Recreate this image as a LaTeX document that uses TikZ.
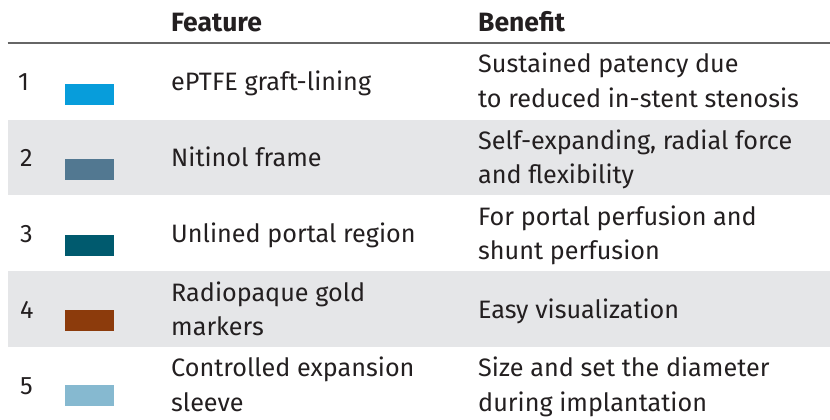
\documentclass[tikz,border=0pt]{standalone}
\usepackage{fontspec}
\setmainfont{Fira Sans}
\definecolor{inkc}{HTML}{231F20}
\definecolor{bandc}{HTML}{E5E6E8}
\definecolor{rulec}{HTML}{666666}
\definecolor{swa}{HTML}{079DDB}
\definecolor{swb}{HTML}{527891}
\definecolor{swc}{HTML}{005A6E}
\definecolor{swd}{HTML}{8C3B0C}
\definecolor{swe}{HTML}{86B9D0}
\begin{document}
\begin{tikzpicture}[x=1pt,y=-1pt,
  txt/.style={anchor=base west,inner sep=0pt,font=\fontsize{25.2}{25.2}\selectfont,text=inkc},
  head/.style={txt,font=\fontsize{26.5}{26.5}\selectfont\bfseries},
  band/.style={fill=bandc,draw=none}]
\useasboundingbox (0,0) rectangle (830,420);
\fill[band] (7.5,119.5) rectangle (830,195);
\fill[band] (7.5,271) rectangle (830,347);
\draw[rulec,line width=1.2pt] (7.5,43) -- (830,43);
\node[head] (hf) at (171,32) {Feature};
\node[head] (hb) at (478,32) {Benefit};
\node[txt] (n1) at (18,90) {1};
\node[txt] (n2) at (20,166) {2};
\node[txt] (n3) at (20,242) {3};
\node[txt] (n4) at (20,318) {4};
\node[txt] (n5) at (20,394) {5};
\fill[swa] (65,84) rectangle (114,105);
\fill[swb] (65,159) rectangle (114,180);
\fill[swc] (65,235) rectangle (114,256);
\fill[swd] (65,310) rectangle (114,331);
\fill[swe] (65,385) rectangle (114,406);
\node[txt] (f1) at (171,90) {ePTFE graft-lining};
\node[txt] (f2) at (171,166) {Nitinol frame};
\node[txt] (f3) at (171,242) {Unlined portal region};
\node[txt] (f4a) at (171,301) {Radiopaque gold};
\node[txt] (f4b) at (171,335) {markers};
\node[txt] (f5a) at (171,376) {Controlled expansion};
\node[txt] (f5b) at (171,411) {sleeve};
\node[txt] (b1a) at (478,73) {Sustained patency due};
\node[txt] (b1b) at (478,107) {to reduced in-stent stenosis};
\node[txt] (b2a) at (478,149) {Self-expanding, radial force};
\node[txt] (b2b) at (478,183) {and flexibility};
\node[txt] (b3a) at (478,225) {For portal perfusion and};
\node[txt] (b3b) at (478,259) {shunt perfusion};
\node[txt] (b4) at (478,318) {Easy visualization};
\node[txt] (b5a) at (478,376) {Size and set the diameter};
\node[txt] (b5b) at (478,411) {during implantation};
\end{tikzpicture}
\end{document}
